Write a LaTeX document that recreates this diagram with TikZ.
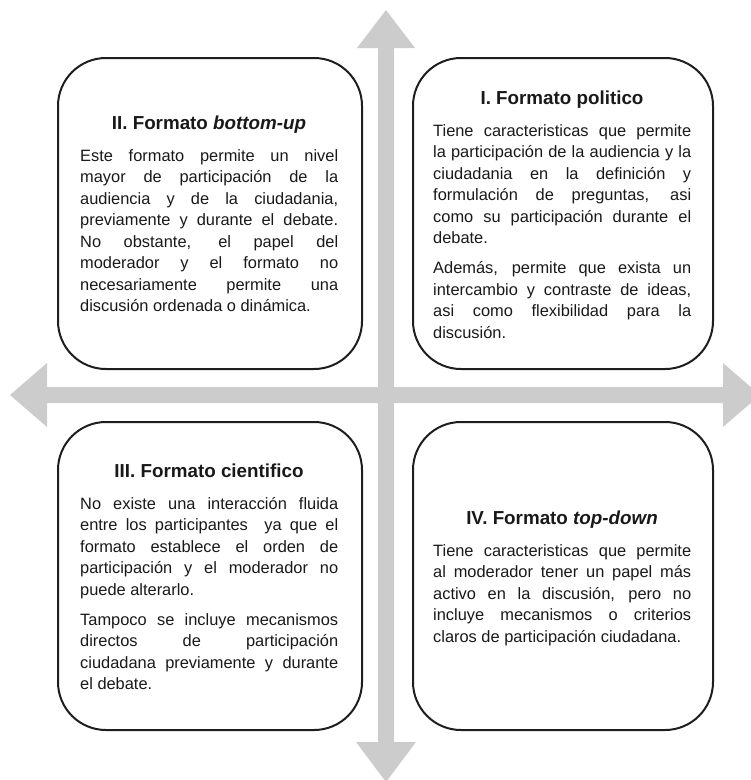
\documentclass[tikz,border=0pt]{standalone}
\usepackage{fontspec}
\setmainfont{Liberation Sans}
\definecolor{arrowgray}{RGB}{204,204,204}
\definecolor{boxline}{RGB}{30,30,30}
\definecolor{txt}{RGB}{25,25,25}
\tikzset{
  qbox/.style={draw=boxline, line width=2pt, rounded corners=48pt, fill=white,
    minimum width=304pt, minimum height=311pt, inner sep=0pt},
  qttl/.style={font=\fontsize{18.8}{22}\selectfont\bfseries, text=txt, anchor=base, inner sep=0pt},
  qbody/.style={font=\fontsize{16.4}{21.5}\selectfont, text=txt, text width=258pt,
    align=justify, anchor=north west, inner sep=0pt},
  qarrow/.style={fill=arrowgray, draw=none},
}
\newcommand{\pgap}{\par\vspace{8.6pt}}
\begin{document}
\begin{tikzpicture}[x=1pt,y=-1pt]
\useasboundingbox (0,0) rectangle (751,780);
% cross arrows
\coordinate (vt) at (386,10);
\coordinate (vb) at (386,782);
\coordinate (hl) at (10,395);
\coordinate (hr) at (760,395);
\fill[qarrow] (378,48) -- (357,48) -- (vt) -- (415,48) -- (394,48) -- (394,742) -- (416,742) -- (vb) -- (356,742) -- (378,742) -- cycle;
\fill[qarrow] (47,387) -- (47,363) -- (hl) -- (47,427) -- (47,403) -- (723,403) -- (723,427) -- (hr) -- (723,363) -- (723,387) -- cycle;
% boxes
\node[qbox, minimum height=311pt] (tl) at (210,213.5) {};
\node[qbox, minimum width=300pt, minimum height=311pt] (tr) at (563,213.5) {};
\node[qbox, minimum height=308pt] (bl) at (210,576) {};
\node[qbox, minimum width=300pt, minimum height=308pt] (br) at (563,576) {};
% texts
\node[qttl] (tlt) at (209,129) {II. Formato \textit{bottom-up}};
\node[qbody] (tlb) at (80,146) {\hyphenpenalty=10000\strut Este formato permite un nivel\linebreak mayor de participación de la\linebreak audiencia y de la ciudadania,\linebreak previamente y durante el debate.\linebreak No obstante, el papel del\linebreak moderador y el formato no\linebreak necesariamente permite una\linebreak discusión ordenada o dinámica.};
\node[qttl] (trt) at (562,104) {I. Formato politico};
\node[qbody] (trb) at (433,121) {\hyphenpenalty=10000\strut Tiene caracteristicas que permite\linebreak la participación de la audiencia y la\linebreak ciudadania en la definición y\linebreak formulación de preguntas, asi\linebreak como su participación durante el\linebreak debate.\pgap Además, permite que exista un\linebreak intercambio y contraste de ideas,\linebreak asi como flexibilidad para la\linebreak discusión.};
\node[qttl] (blt) at (209,477) {III. Formato cientifico};
\node[qbody] (blb) at (80,494) {\hyphenpenalty=10000\strut No existe una interacción fluida\linebreak entre los participantes\ \ ya que el\linebreak formato establece el orden de\linebreak participación y el moderador no\linebreak puede alterarlo.\pgap Tampoco se incluye mecanismos\linebreak directos de participación\linebreak ciudadana previamente y durante\linebreak el debate.};
\node[qttl] (brt) at (562,524) {IV. Formato \textit{top-down}};
\node[qbody] (brb) at (433,541) {\hyphenpenalty=10000\strut Tiene caracteristicas que permite\linebreak al moderador tener un papel más\linebreak activo en la discusión, pero no\linebreak incluye mecanismos o criterios\linebreak claros de participación ciudadana.};
\end{tikzpicture}
\end{document}
